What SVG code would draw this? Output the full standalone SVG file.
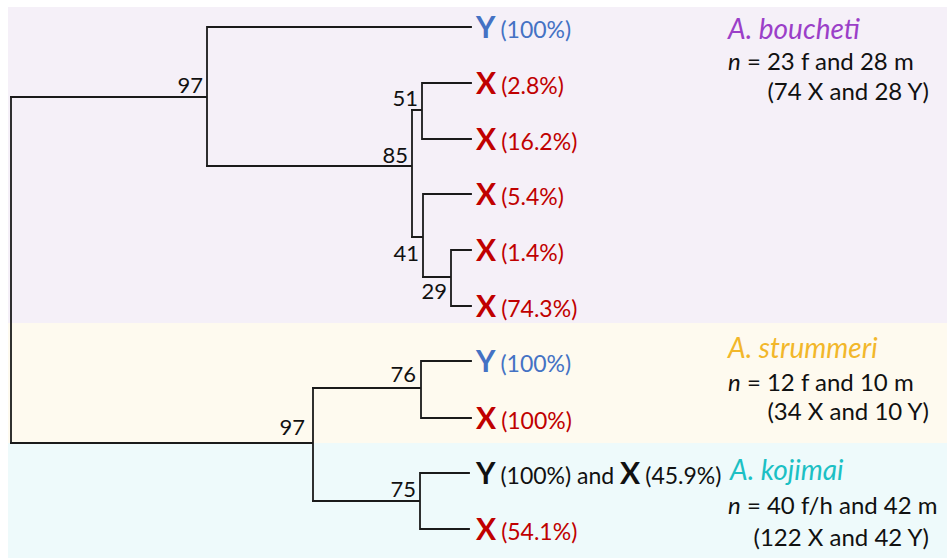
<svg xmlns="http://www.w3.org/2000/svg" width="947" height="558" viewBox="0 0 947 558">
<style>
.br{fill:none;stroke:#1a1a1a;stroke-width:1.8;stroke-linecap:square}
text{font-family:Lato,"Open Sans","Liberation Sans",sans-serif}
.bs{font-size:22px;fill:#111;text-anchor:end}
.big{font-size:30px;font-weight:bold}
.pct{font-size:23px}
.red{fill:#c00000}
.blue{fill:#4472c4}
.blk{fill:#111}
.sp{font-size:28px;font-style:italic}
.info{font-size:24px;fill:#111}
.par{font-size:24px;fill:#111;text-anchor:end}
</style>
<rect x="8" y="7" width="939" height="316" fill="#f5f0f8"/>
<rect x="8" y="323" width="939" height="120" fill="#fefaef"/>
<rect x="8" y="443" width="939" height="115" fill="#eefafb"/>
<g id="connectors">
<path class="br" d="M11,97 V443"/>
<path class="br" d="M11,97 H207 M207,27 V166 M207,27 H471"/>
<path class="br" d="M207,166 H412 M412,110 V237"/>
<path class="br" d="M412,110 H422 M422,83 V139 M422,83 H471 M422,139 H471"/>
<path class="br" d="M412,237 H423 M423,194 V277 M423,194 H471"/>
<path class="br" d="M423,277 H451 M451,250 V306 M451,250 H471 M451,306 H471"/>
<path class="br" d="M11,443 H313 M313,388 V501"/>
<path class="br" d="M313,388 H421 M421,361 V418 M421,361 H471 M421,418 H471"/>
<path class="br" d="M313,501 H420 M420,473 V529 M420,473 H469 M420,529 H469"/>
</g>
<g id="support">
<text class="bs" x="203" y="93">97</text>
<text class="bs" x="418" y="106">51</text>
<text class="bs" x="408" y="163">85</text>
<text class="bs" x="419" y="261">41</text>
<text class="bs" x="447" y="299">29</text>
<text class="bs" x="416" y="382">76</text>
<text class="bs" x="305" y="435">97</text>
<text class="bs" x="416" y="497">75</text>
</g>
<g id="leaf1"><text x="476" y="38" class="blue"><tspan class="big">Y</tspan><tspan class="pct" dx="5">(100%)</tspan></text></g>
<g id="leaf2"><text x="476" y="94" class="red"><tspan class="big">X</tspan><tspan class="pct" dx="5">(2.8%)</tspan></text></g>
<g id="leaf3"><text x="476" y="150" class="red"><tspan class="big">X</tspan><tspan class="pct" dx="5">(16.2%)</tspan></text></g>
<g id="leaf4"><text x="476" y="205" class="red"><tspan class="big">X</tspan><tspan class="pct" dx="5">(5.4%)</tspan></text></g>
<g id="leaf5"><text x="476" y="261" class="red"><tspan class="big">X</tspan><tspan class="pct" dx="5">(1.4%)</tspan></text></g>
<g id="leaf6"><text x="476" y="317" class="red"><tspan class="big">X</tspan><tspan class="pct" dx="5">(74.3%)</tspan></text></g>
<g id="leaf7"><text x="476" y="372" class="blue"><tspan class="big">Y</tspan><tspan class="pct" dx="5">(100%)</tspan></text></g>
<g id="leaf8"><text x="476" y="429" class="red"><tspan class="big">X</tspan><tspan class="pct" dx="5">(100%)</tspan></text></g>
<g id="leaf9"><text x="476" y="484" class="blk"><tspan class="big">Y</tspan><tspan class="pct" dx="5">(100%) and </tspan><tspan class="big">X</tspan><tspan class="pct" dx="5">(45.9%)</tspan></text></g>
<g id="leaf10"><text x="476" y="540" class="red"><tspan class="big">X</tspan><tspan class="pct" dx="5">(54.1%)</tspan></text></g>
<g id="boucheti">
<text class="sp" x="728" y="39" fill="#9b3fc8">A. boucheti</text>
<text class="info" x="728" y="70"><tspan font-style="italic">n</tspan> = 23 f and 28 m</text>
<text class="par" x="929" y="100">(74 X and 28 Y)</text>
</g>
<g id="strummeri">
<text class="sp" x="728" y="358" fill="#f2b72a">A. strummeri</text>
<text class="info" x="728" y="391"><tspan font-style="italic">n</tspan> = 12 f and 10 m</text>
<text class="par" x="929" y="420">(34 X and 10 Y)</text>
</g>
<g id="kojimai">
<text class="sp" x="730" y="480" fill="#1cc0c4">A. kojimai</text>
<text class="info" x="728" y="514"><tspan font-style="italic">n</tspan> = 40 f/h and 42 m</text>
<text class="par" x="929" y="546">(122 X and 42 Y)</text>
</g>
</svg>
